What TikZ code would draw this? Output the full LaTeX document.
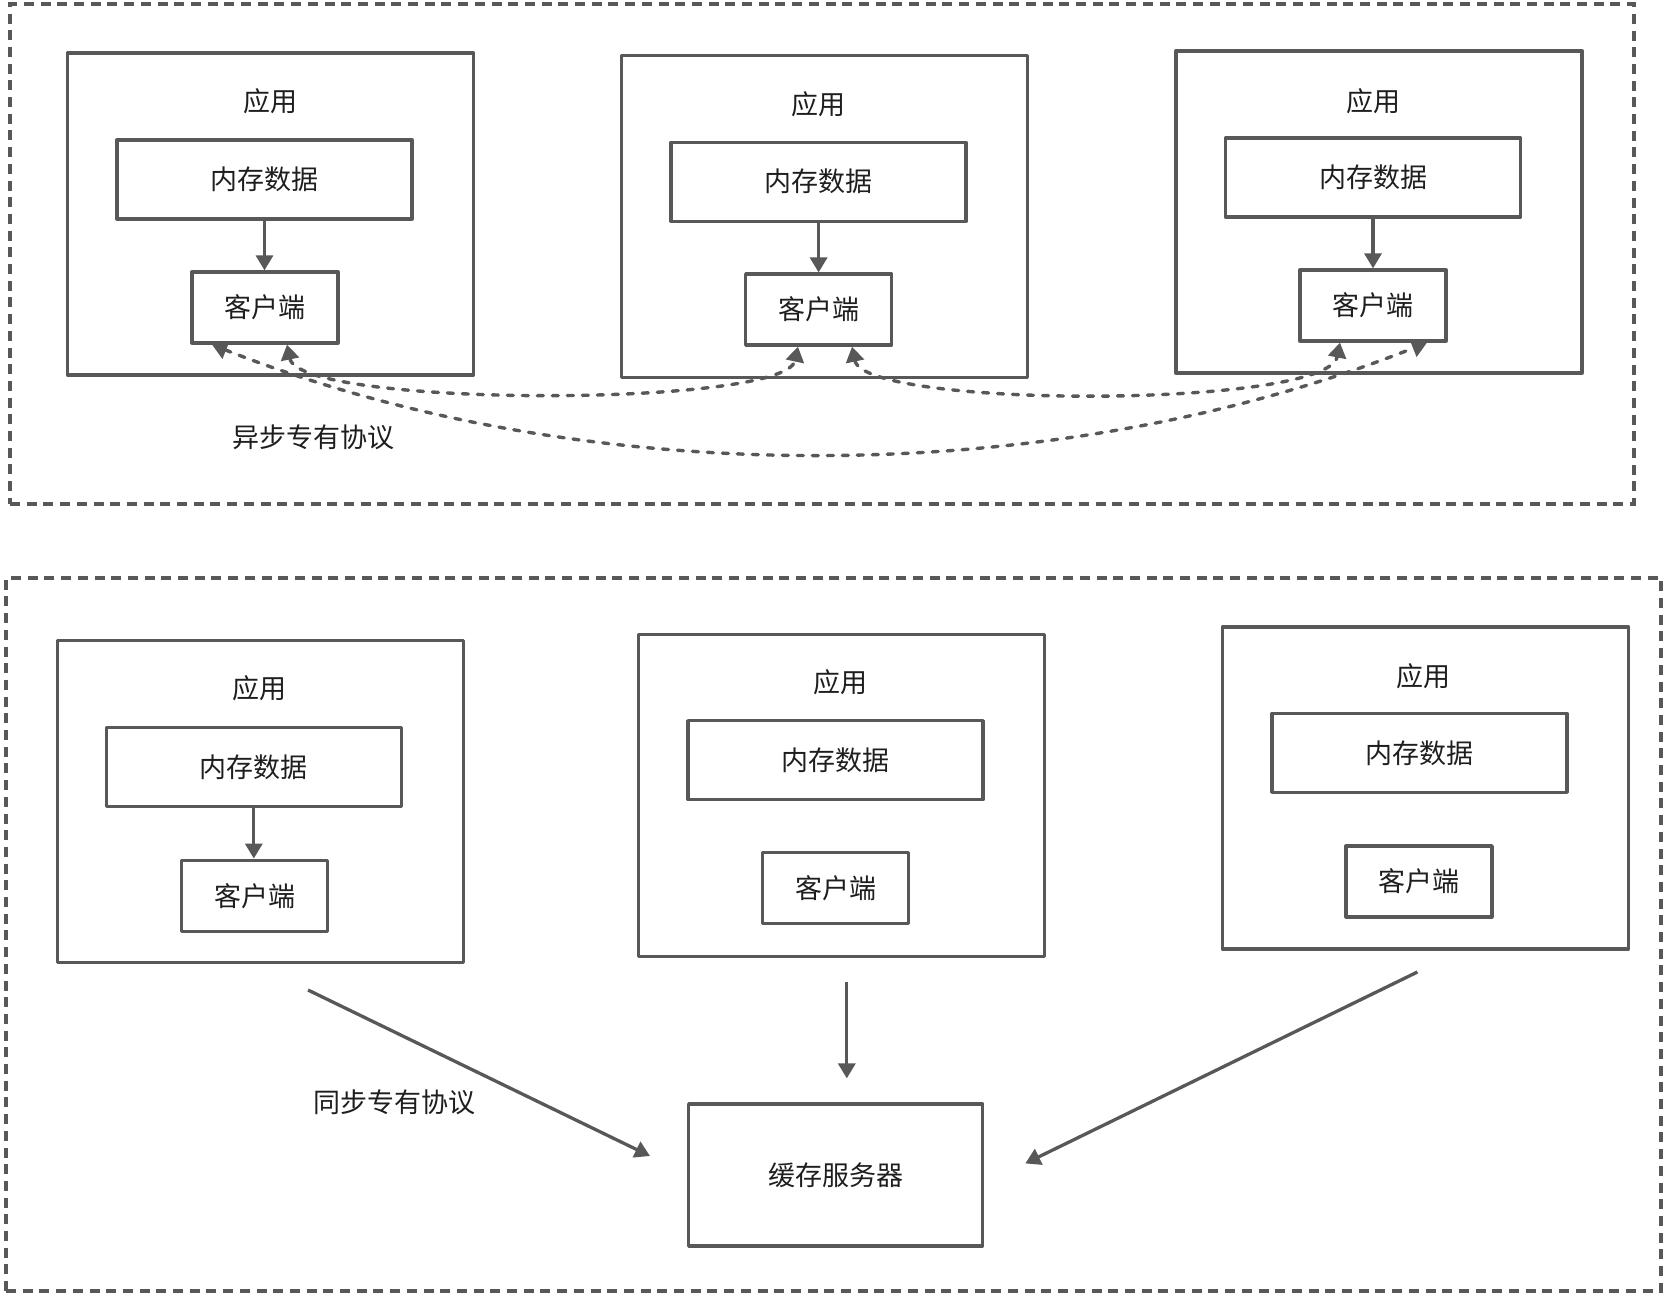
\documentclass[tikz,border=0pt]{standalone}
\usepackage{fontspec}
\setmainfont{Noto Sans CJK SC}
\usetikzlibrary{arrows.meta,calc}
\definecolor{lc}{RGB}{88,88,88}
\definecolor{tc}{RGB}{30,30,30}
\begin{document}
\begin{tikzpicture}[x=1pt,y=-1pt,
  box/.style={draw=lc,line width=3.3pt,line join=round,inner sep=0pt,text=tc,font=\fontsize{27}{32}\selectfont},
  app/.style={box,minimum width=406pt,minimum height=322pt},
  mem/.style={box,minimum width=295pt,minimum height=79pt},
  cli/.style={box,minimum width=146pt,minimum height=71pt},
  srv/.style={box,minimum width=294pt,minimum height=142pt},
  ttl/.style={text=tc,font=\fontsize{27}{32}\selectfont,inner sep=0pt},
  con/.style={draw=lc,line width=3.3pt,-{Triangle[width=17pt,length=15pt]}},
  dcon/.style={draw=lc,line width=3.4pt,line cap=round,dash pattern=on 6pt off 9pt,{Triangle[width=18pt,length=15pt]}-{Triangle[width=18pt,length=15pt]}},
  outerframe/.style={draw=lc,line width=3.3pt,dash pattern=on 10pt off 6.7pt,inner sep=0pt}]
\useasboundingbox (0,0) rectangle (1666,1296);

% frames
\node[outerframe,minimum width=1624pt,minimum height=500pt] (topf) at (822,254) {};
\node[outerframe,minimum width=1655pt,minimum height=713pt] (botf) at (833.5,934.5) {};

% top row
\node[app] (a1) at (270.5,214) {};
\node[ttl] (a1t) at (270,101) {应用};
\node[mem] (a1m) at (264.5,179.5) {内存数据};
\node[cli] (a1c) at (265,307.5) {客户端};

\node[app] (a2) at (824.5,216.25) {};
\node[ttl] (a2t) at (818,104) {应用};
\node[mem] (a2m) at (818.6,181.7) {内存数据};
\node[cli] (a2c) at (818.6,309.6) {客户端};

\node[app] (a3) at (1379,212) {};
\node[ttl] (a3t) at (1373,101) {应用};
\node[mem] (a3m) at (1373,177.5) {内存数据};
\node[cli] (a3c) at (1373,305.5) {客户端};

\draw[con] (a1m) -- (a1m |- a1c.north);
\draw[con] (a2m) -- (a2m |- a2c.north);
\draw[con] (a3m) -- (a3m |- a3c.north);

\coordinate (t1a) at ([xshift=22pt]a1c.south);
\coordinate (t1b) at ([xshift=-53pt]a1c.south);
\coordinate (t2a) at ([xshift=-20.6pt]a2c.south);
\coordinate (t2b) at ([xshift=33.4pt]a2c.south);
\coordinate (t3a) at ([xshift=-33pt]a3c.south);
\coordinate (t3b) at ([xshift=54pt]a3c.south);

\draw[dcon] (t1a) .. controls ($(t1a)+(13,63)$) and ($(t2a)+(-13,61)$) .. (t2a);
\draw[dcon] (t2b) .. controls ($(t2b)+(13,62)$) and ($(t3a)+(-13,66)$) .. (t3a);
\draw[dcon] (t1b) .. controls ($(t1b)+(372,147)$) and ($(t3b)+(-372,148)$) .. (t3b);

\node[ttl] (asy) at (313.4,437.75) {异步专有协议};

% bottom row
\node[app] (b1) at (260.3,801.6) {};
\node[ttl] (b1t) at (259,688.5) {应用};
\node[mem] (b1m) at (253.8,767.2) {内存数据};
\node[cli] (b1c) at (254.5,895.7) {客户端};
\draw[con] (b1m) -- (b1m |- b1c.north);

\node[app] (b2) at (841.5,795.3) {};
\node[ttl] (b2t) at (840.4,682) {应用};
\node[mem] (b2m) at (835.6,760.2) {内存数据};
\node[cli] (b2c) at (835.7,888.2) {客户端};

\node[app] (b3) at (1425.4,787.9) {};
\node[ttl] (b3t) at (1423.75,675.75) {应用};
\node[mem] (b3m) at (1419.5,752.8) {内存数据};
\node[cli] (b3c) at (1419,881.4) {客户端};

\node[srv] (cache) at (835.6,1175.1) {缓存服务器};

\coordinate (s1) at (308,990);
\coordinate (e1) at (650,1156);
\coordinate (s2) at (846.8,981.75);
\coordinate (e2) at (846.8,1078.4);
\coordinate (s3) at (1417.4,972);
\coordinate (e3) at (1025.3,1163.4);
\draw[con] (s1) -- (e1);
\draw[con] (s2) -- (e2);
\draw[con] (s3) -- (e3);

\node[ttl] (syn) at (394,1102) {同步专有协议};
\end{tikzpicture}
\end{document}
